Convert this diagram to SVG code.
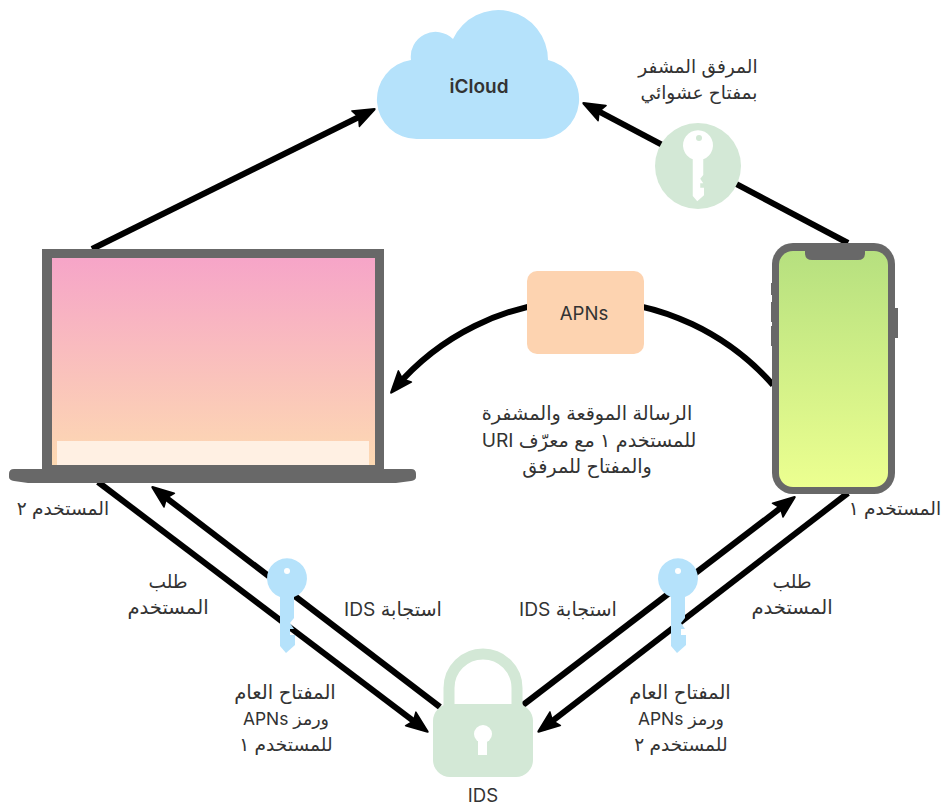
<svg xmlns="http://www.w3.org/2000/svg" width="942" height="808" viewBox="0 0 942 808">
<style>
text{font-family:"Inter","DejaVu Sans",sans-serif;font-size:18.6px;fill:#333;text-anchor:middle;direction:rtl}
text.w{font-size:19.6px}
text.m{font-size:19.2px}
text.n{font-size:17.4px}
.c{fill:none;stroke:#000;stroke-width:6}
.ca{marker-end:url(#ah)}
.b{fill:#b5e2fb}
.g{fill:#d3e8d6}
.f{fill:#686868}
</style>
<defs>
<marker id="ah" markerUnits="userSpaceOnUse" markerWidth="26" markerHeight="24" refX="16" refY="11" orient="auto" viewBox="0 0 24 22">
<path d="M2 2.5 L21.5 10 Q23 11 21.5 12 L2 19.5 Q.5 20 1 18.5 L4 11 L1 3.5 Q.5 2 2 2.5Z" fill="#000"/>
</marker>
<linearGradient id="lap" x1="0" y1="0" x2="0" y2="1"><stop offset="0" stop-color="#f6a5c8"/><stop offset="1" stop-color="#fdd9b2"/></linearGradient>
<linearGradient id="ph" x1="0" y1="0" x2="0" y2="1"><stop offset="0" stop-color="#b6e07f"/><stop offset="1" stop-color="#ecff90"/></linearGradient>
<path id="key" d="M-7 15V64L-1 71L8 63V53H3V47H7L3 41L7 36V15A20 20 0 1 0 -7 15Z"/>
</defs>
<g id="connectors">
<path class="c ca" d="M92 249L369.6 111.7"/>
<path class="c ca" d="M848 243L588.3 105.8"/>
<path class="c ca" d="M773 385A250 250 0 0 0 394.8 388.3"/>
<path class="c ca" d="M98 482L423.2 728.4"/>
<path class="c ca" d="M440 707L156.8 490.6"/>
<path class="c ca" d="M523 705L790.2 500.6"/>
<path class="c ca" d="M848 493L542.8 728.3"/>
</g>
<g id="icloud"><path class="b" d="M416.7 139A39.7 39.7 0 0 1 411 60A24.8 24.8 0 0 1 453 39A49.8 49.8 0 0 1 548 60A40 40 0 0 1 539 139Z"/><text x="479" y="93" style="font-weight:600;font-size:19px;direction:ltr">iCloud</text></g>
<g id="encrypted-key"><circle class="g" cx="698" cy="166" r="43"/><use href="#key" transform="translate(698 148) scale(.75)" fill="#fff"/><circle class="g" cx="699" cy="138" r="3"/></g>
<text x="698" y="73">المرفق المشفر</text>
<text x="699" y="99">بمفتاح عشوائي</text>
<g id="laptop">
<rect x="42" y="249" width="342" height="225" class="f"/>
<rect x="52" y="258" width="323" height="207" fill="url(#lap)"/>
<rect x="57" y="441" width="312" height="24" fill="#fff0e3"/>
<path class="f" d="M14 469H411Q416 469 416 474V477Q416 480 411 481L396 483H28L14 481Q9 480 9 477V474Q9 469 14 469Z"/>
<text x="63" y="515">المستخدم ٢</text>
</g>
<g id="phone">
<rect x="771" y="283" width="3" height="12" class="f"/><rect x="771" y="302" width="3" height="20" class="f"/><rect x="771" y="326" width="3" height="20" class="f"/><rect x="894" y="308" width="4" height="30" class="f"/>
<rect x="772" y="243" width="123" height="251" rx="21" class="f"/>
<rect x="779" y="251" width="109" height="236" rx="14" fill="url(#ph)"/>
<path class="f" d="M805 250H865V253Q865 260 858 260H812Q805 260 805 253Z"/>
<text x="895" y="515">المستخدم ١</text>
</g>
<g id="apns"><rect x="527" y="271" width="117" height="83" rx="10" fill="#fdd3b0"/><text x="584" y="320" style="direction:ltr">APNs</text></g>
<text class="m" x="587" y="420">الرسالة الموقعة والمشفرة</text>
<text class="m" x="589" y="447">للمستخدم ١ مع معرّف URI</text>
<text class="m" x="587" y="473">والمفتاح للمرفق</text>
<g id="key-left"><use href="#key" transform="translate(287 582)" class="b"/><circle cx="287" cy="571" r="3" fill="#fff"/></g>
<g id="key-right"><use href="#key" transform="translate(678 582)" class="b"/><circle cx="678" cy="571" r="3" fill="#fff"/></g>
<g id="ids">
<path d="M449 706V688A34 34 0 0 1 517 688V706" fill="none" stroke="#d3e8d6" stroke-width="11"/>
<rect x="433" y="704" width="100" height="73" rx="17" class="g"/>
<circle cx="483" cy="734" r="9" fill="#fff"/><rect x="478" y="734" width="9" height="21" fill="#fff"/>
<text x="483" y="802" style="direction:ltr">IDS</text>
</g>
<text x="168" y="588">طلب</text>
<text class="w" x="168" y="614">المستخدم</text>
<text x="792" y="588">طلب</text>
<text class="w" x="792" y="614">المستخدم</text>
<text class="m" x="393" y="616">استجابة IDS</text>
<text class="m" x="568" y="616">استجابة IDS</text>
<text class="w" x="285" y="699">المفتاح العام</text>
<text class="n" x="286" y="725">ورمز APNs</text>
<text x="286" y="751">للمستخدم ١</text>
<text class="w" x="680" y="699">المفتاح العام</text>
<text class="n" x="681" y="725">ورمز APNs</text>
<text x="681" y="751">للمستخدم ٢</text>
</svg>
